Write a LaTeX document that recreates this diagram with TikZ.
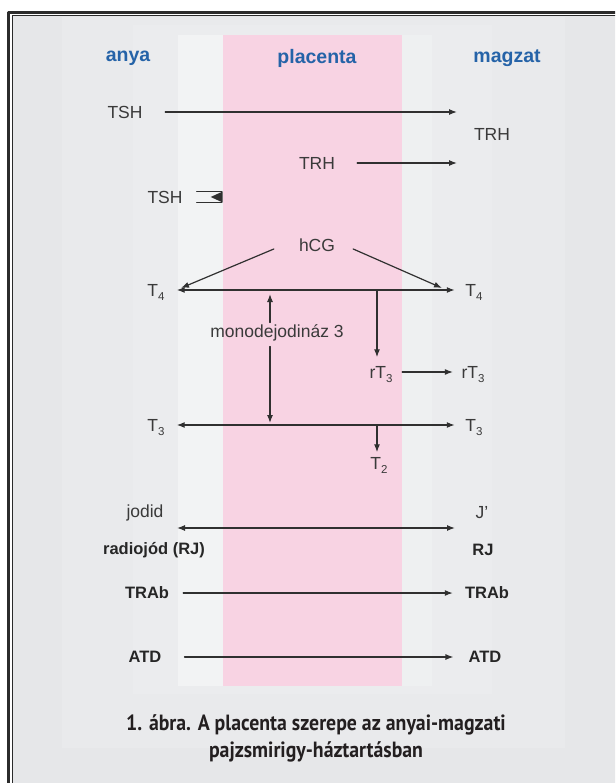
\documentclass[tikz,border=0pt]{standalone}
\usepackage{fontspec}
\setmainfont{Liberation Sans}
\newfontfamily\capfont[FakeStretch=0.9]{PT Sans}
\usetikzlibrary{arrows.meta,calc}

\definecolor{framedark}{HTML}{2B2B2B}
\definecolor{bggray}{HTML}{E6E7E9}
\definecolor{panelA}{HTML}{E9EAEC}
\definecolor{panelB}{HTML}{EBECEE}
\definecolor{bandL}{HTML}{F2F3F4}
\definecolor{bandR}{HTML}{EEF0F1}
\definecolor{pinkbg}{HTML}{F8D3E3}
\definecolor{headblue}{HTML}{2563A8}
\definecolor{txtgray}{HTML}{3A3A3A}
\definecolor{txtdark}{HTML}{262626}
\definecolor{arrgray}{HTML}{303030}
\definecolor{capcol}{HTML}{231F20}

\newcommand{\lowidx}[1]{\raisebox{-0.45ex}{\fontsize{11.5}{12}\selectfont #1}}

\begin{document}
\begin{tikzpicture}[x=1pt, y=-1pt, line cap=round, line join=round,
    lbl/.style={inner sep=0pt, text=txtgray, font=\fontsize{17.5}{20}\selectfont},
    tlbl/.style={lbl, text depth=0pt},
    blbl/.style={inner sep=0pt, text=txtdark, font=\fontsize{16.5}{20}\selectfont\bfseries},
    head/.style={inner sep=0pt, text=headblue, font=\fontsize{19.5}{22}\selectfont\bfseries},
    arr/.style={draw=arrgray, line width=1.2pt, -{Latex[length=8pt,width=6pt]}},
    darr/.style={arr, {Latex[length=8pt,width=6pt]}-{Latex[length=8pt,width=6pt]}}]

    \clip (0,0) rectangle (615,783);

    % --- 1. Frame and background ---
    \fill[white] (0,0) rectangle (615,783);
    \fill[bggray] (13,16) rectangle (620,790);
    \draw[framedark, line width=2.7pt] (8.7,790) -- (8.7,12.5) -- (620,12.5);
    \draw[framedark, line width=1.3pt] (12.5,790) -- (12.5,15.5) -- (620,15.5);
    \fill[panelA] (62,17) rectangle (565,748);
    \fill[panelB] (133,25) rectangle (492,694);
    \fill[bandL] (178,35) rectangle (223,686);
    \fill[bandR] (402,35) rectangle (432,686);
    \fill[pinkbg] (223,35) rectangle (402,686);

    % --- 2. Column headings ---
    \node[head] (anya) at (128,58) {anya};
    \node[head] (plac) at (317,58) {placenta};
    \node[head] (magz) at (507,58) {magzat};

    % --- 3. TSH and TRH ---
    \node[lbl] (tshA) at (125,112) {TSH};
    \coordinate (tshEnd) at (457,112);
    \draw[arr, shorten <=22.5pt] (tshA) -- (tshEnd);

    \node[lbl] (trhF) at (492,134) {TRH};
    \node[lbl] (trhP) at (317,163) {TRH};
    \coordinate (trhEnd) at (457,163);
    \draw[arr, shorten <=22pt] (trhP) -- (trhEnd);

    % TSH does not pass
    \node[lbl] (tshB) at (165,197) {TSH};
    \begin{scope}[shift={($(tshB.east)+(14,0)$)}]
        \draw[arrgray, line width=1.2pt] (0,-5.5) -- (25,-5.5) (0,5.5) -- (25,5.5);
        \fill[arrgray] (26,-5.5) -- (26,5.5) -- (14,0) -- cycle;
    \end{scope}

    % --- 4. hCG, T4, T3 ---
    \node[lbl] (hcg) at (317,245) {hCG};
    \node[tlbl] (t4l) at (156,290) {T\lowidx{4}};
    \node[tlbl] (t4r) at (474,290) {T\lowidx{4}};
    \coordinate (hcgL) at ($(hcg.west)+(-25,4)$);
    \coordinate (hcgR) at ($(hcg.east)+(18,4)$);
    \coordinate (t4lTip) at (181,288);
    \coordinate (t4rTip) at (442,288);
    \draw[arr] (hcgL) -- (t4lTip);
    \draw[arr] (hcgR) -- (t4rTip);
    \draw[darr, shorten <=12pt, shorten >=10.5pt] (t4l) -- (t4r);

    \node[tlbl] (rt3p) at (381,372) {rT\lowidx{3}};
    \node[tlbl] (rt3f) at (473,372) {rT\lowidx{3}};
    \coordinate (t4rt) at (377,290);
    \draw[arr, shorten >=8.5pt] (t4rt) -- (rt3p.north -| t4rt);
    \draw[arr, shorten <=9.5pt, shorten >=8.5pt] (rt3p) -- (rt3f);

    \node[tlbl] (t3l) at (156,425) {T\lowidx{3}};
    \node[tlbl] (t3r) at (474,425) {T\lowidx{3}};
    \draw[darr, shorten <=12pt, shorten >=10.5pt] (t3l) -- (t3r);

    \node[tlbl] (t2) at (379,463) {T\lowidx{2}};
    \coordinate (t3rt) at (377,425);
    \draw[arr, shorten >=4.5pt] (t3rt) -- (t2.north -| t3rt);

    % monodeiodinase between T4 and T3
    \node[lbl] (mono) at (277,333) {monodejodináz 3};
    \coordinate (m4) at (270,290);
    \coordinate (m3) at (270,425);
    \draw[arr, shorten <=2pt, shorten >=4pt] (mono.north -| m4) -- (m4);
    \draw[arr, shorten <=5pt, shorten >=2pt] (mono.south -| m3) -- (m3);

    % --- 5. Iodide, antibodies, drugs ---
    \node[lbl] (jodA) at (145,513) {jodid};
    \node[lbl] (jodF) at (482,513) {J'};
    \coordinate (jl) at (177,528);
    \coordinate (jr) at (455,528);
    \draw[darr] (jl) -- (jr);
    \node[blbl] (rjA) at (154,550) {radiojód (RJ)};
    \node[blbl] (rjF) at (483,550) {RJ};

    \node[blbl] (trabA) at (147,593) {TRAb};
    \node[blbl] (trabF) at (487,593) {TRAb};
    \draw[arr, shorten <=14pt, shorten >=12pt] (trabA) -- (trabF);

    \node[blbl] (atdA) at (145,657) {ATD};
    \node[blbl] (atdF) at (485,657) {ATD};
    \draw[arr, shorten <=23pt, shorten >=15pt] (atdA) -- (atdF);

    % --- 6. Caption ---
    \node[inner sep=0pt, text=capcol, align=center,
          font=\capfont\bfseries\fontsize{22}{27}\selectfont] (capt) at (316,738)
        {1. ábra. A placenta szerepe az anyai-magzati\\pajzsmirigy-háztartásban};
\end{tikzpicture}
\end{document}
